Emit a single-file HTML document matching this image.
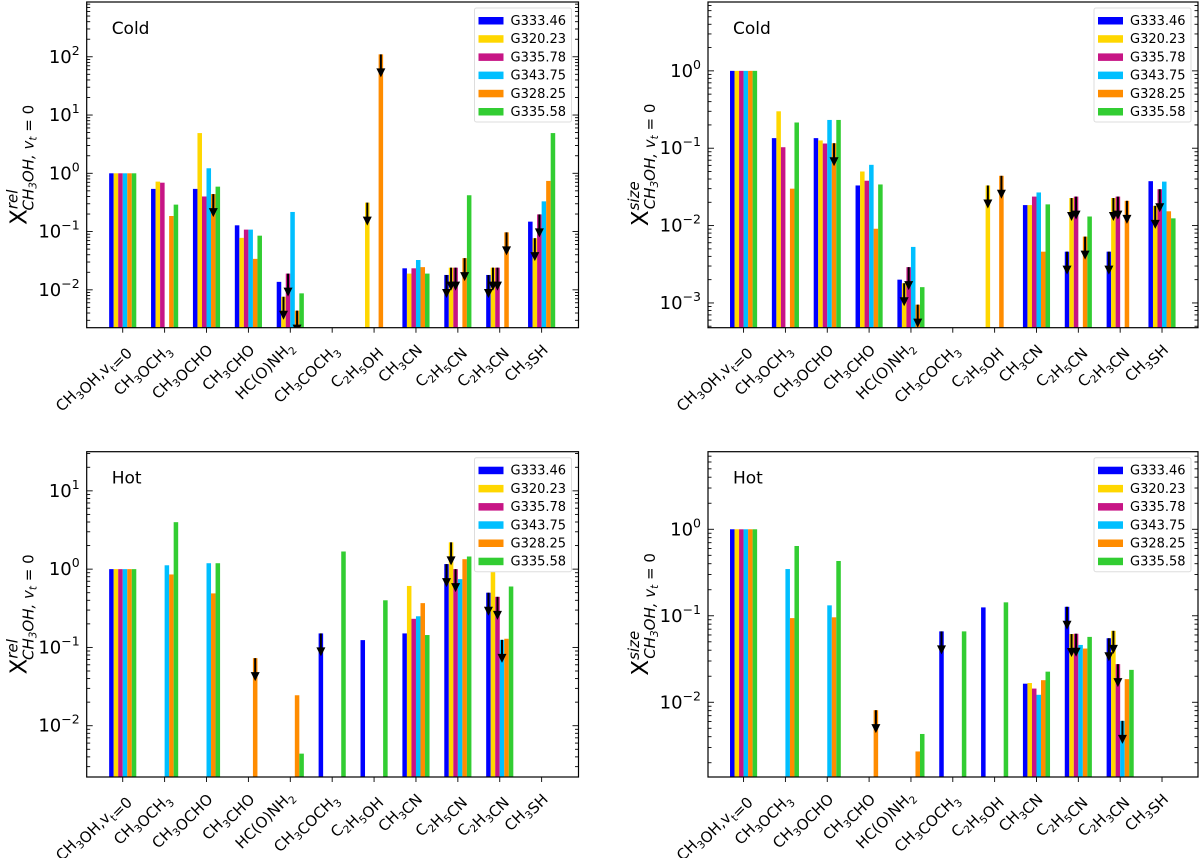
<!DOCTYPE html>
<html><head><meta charset="utf-8"><style>
html,body{margin:0;padding:0;background:#fff;}
svg{display:block;font-family:"DejaVu Sans","Liberation Sans",sans-serif;}
</style></head><body>
<svg id="chart" width="1200" height="858" viewBox="0 0 1200 858" xmlns="http://www.w3.org/2000/svg"></svg>
<script>
const categories=["CH_3OH,v_t=0","CH_3OCH_3","CH_3OCHO","CH_3CHO","HC(O)NH_2","CH_3COCH_3","C_2H_5OH","CH_3CN","C_2H_5CN","C_2H_3CN","CH_3SH"];
const sources=["G333.46","G320.23","G335.78","G343.75","G328.25","G335.58"];
const colors=["#0000ff","#ffd700","#c71585","#00bfff","#ff8c00","#32cd32"];
const N=null;
// Cold, relative
const coldRelG33346=[1,0.54,0.54,0.128,0.0137,N,N,0.0234,0.018,0.018,0.148];
const coldRelG32023=[1,0.72,4.9,0.078,0.0076,N,0.314,0.019,0.024,0.024,0.077];
const coldRelG33578=[1,0.69,0.4,0.108,0.019,N,N,0.0234,0.024,0.024,0.197];
const coldRelG34375=[1,N,1.22,0.108,0.217,N,N,0.0325,N,N,0.33];
const coldRelG32825=[1,0.185,0.44,0.034,0.0044,N,110,0.0245,0.035,0.097,0.74];
const coldRelG33558=[1,0.29,0.59,0.085,0.0087,N,N,0.019,0.42,N,4.9];
const coldRelLimits=[[4,2],[1,4],[2,4],[4,4],[1,6],[4,6],[0,8],[1,8],[2,8],[4,8],[0,9],[1,9],[2,9],[4,9],[1,10],[2,10]];
// Cold, size
const coldSizeG33346=[1,0.135,0.135,0.033,0.002,N,N,0.0184,0.0046,0.0046,0.0375];
const coldSizeG32023=[1,0.30,0.126,0.050,0.0018,N,0.033,0.0184,0.0227,0.0227,0.018];
const coldSizeG33578=[1,0.103,0.115,0.038,0.0029,N,N,0.0237,0.0237,0.0237,0.0295];
const coldSizeG34375=[1,N,0.232,0.061,0.0053,N,N,0.0268,N,N,0.037];
const coldSizeG32825=[1,0.030,0.116,0.0091,0.00095,N,0.044,0.0046,0.0072,0.0209,0.0153];
const coldSizeG33558=[1,0.215,0.232,0.034,0.0016,N,N,0.0188,0.0131,N,0.0124];
const coldSizeLimits=[[4,2],[1,4],[2,4],[4,4],[1,6],[4,6],[0,8],[1,8],[2,8],[4,8],[0,9],[1,9],[2,9],[4,9],[1,10],[2,10]];
// Hot, relative
const hotRelG33346=[1,N,N,N,N,0.151,0.124,0.151,1.16,0.50,N];
const hotRelG32023=[1,N,N,N,N,N,N,0.61,2.2,2.0,N];
const hotRelG33578=[1,N,N,N,N,N,N,0.232,1.0,0.443,N];
const hotRelG34375=[1,1.12,1.19,N,N,N,N,0.25,0.745,0.125,N];
const hotRelG32825=[1,0.855,0.49,0.073,0.0245,N,N,0.368,1.34,0.129,N];
const hotRelG33558=[1,3.98,1.19,N,0.0044,1.68,0.40,0.144,1.45,0.60,N];
const hotRelLimits=[[4,3],[0,5],[0,8],[1,8],[2,8],[0,9],[2,9],[3,9]];
// Hot, size
const hotSizeG33346=[1,N,N,N,N,0.066,0.125,0.0164,0.127,0.055,N];
const hotSizeG32023=[1,N,N,N,N,N,N,0.0167,0.0615,0.067,N];
const hotSizeG33578=[1,N,N,N,N,N,N,0.0144,0.062,0.0276,N];
const hotSizeG34375=[1,0.347,0.132,N,N,N,N,0.0122,0.046,0.0061,N];
const hotSizeG32825=[1,0.094,0.096,0.0081,0.0027,N,N,0.018,0.0418,0.0185,N];
const hotSizeG33558=[1,0.641,0.43,N,0.0043,0.066,0.143,0.0226,0.057,0.0237,N];
const hotSizeLimits=[[4,3],[0,5],[0,8],[1,8],[2,8],[0,9],[1,9],[2,9],[3,9]];
const coldRelTicks=[-2,-1,0,1,2];
const coldSizeTicks=[-3,-2,-1,0];
const hotRelTicks=[-2,-1,0,1];
const hotSizeTicks=[-2,-1,0];

const NS="http://www.w3.org/2000/svg";
const svg=document.getElementById('chart');
function mk(tag,attrs,parent){const e=document.createElementNS(NS,tag);for(const k in attrs)e.setAttribute(k,attrs[k]);(parent||svg).appendChild(e);return e;}
function richText(parent,str,fs){
  let i=0;
  while(i<str.length){
    if(str[i]==='_'){
      const t=mk('tspan',{'font-size':fs*0.7,'dy':fs*0.3},parent);t.textContent=str[i+1];
      const r=mk('tspan',{'dy':-fs*0.3},parent);r.textContent='';
      i+=2;
    } else {
      let j=i;while(j<str.length&&str[j]!=='_')j++;
      const t=mk('tspan',{},parent);t.textContent=str.slice(i,j);i=j;
    }
  }
}
const panels=[
 {id:'cold-rel',title:'Cold',kind:'rel',x0:86.7,x1:578.5,y0:2,y1:327.7,xmin:-0.86,xmax:10.88,lmin:-2.65,lmax:2.94,ticks:coldRelTicks,
  series:[coldRelG33346,coldRelG32023,coldRelG33578,coldRelG34375,coldRelG32825,coldRelG33558],limits:coldRelLimits},
 {id:'cold-size',title:'Cold',kind:'size',x0:708,x1:1198,y0:2,y1:327.7,xmin:-0.85,xmax:10.86,lmin:-3.32,lmax:0.89,ticks:coldSizeTicks,
  series:[coldSizeG33346,coldSizeG32023,coldSizeG33578,coldSizeG34375,coldSizeG32825,coldSizeG33558],limits:coldSizeLimits},
 {id:'hot-rel',title:'Hot',kind:'rel',x0:86.7,x1:578.5,y0:451.7,y1:777,xmin:-0.86,xmax:10.88,lmin:-2.655,lmax:1.5,ticks:hotRelTicks,
  series:[hotRelG33346,hotRelG32023,hotRelG33578,hotRelG34375,hotRelG32825,hotRelG33558],limits:hotRelLimits},
 {id:'hot-size',title:'Hot',kind:'size',x0:708,x1:1198,y0:451.7,y1:777,xmin:-0.85,xmax:10.86,lmin:-2.864,lmax:0.897,ticks:hotSizeTicks,
  series:[hotSizeG33346,hotSizeG32023,hotSizeG33578,hotSizeG34375,hotSizeG32825,hotSizeG33558],limits:hotSizeLimits}
];
const BW=0.108;
panels.forEach(p=>{
  const g=mk('g',{});
  
  
  const xs=v=>p.x0+(v-p.xmin)/(p.xmax-p.xmin)*(p.x1-p.x0);
  const ys=v=>p.y1-(Math.log10(v)-p.lmin)/(p.lmax-p.lmin)*(p.y1-p.y0);
  const clip='clip-'+p.id;
  const cp=mk('clipPath',{id:clip},g);mk('rect',{x:p.x0,y:p.y0,width:p.x1-p.x0,height:p.y1-p.y0},cp);
  const bars=mk('g',{'clip-path':'url(#'+clip+')'},g);
  
  
  p.series.forEach((arr,s)=>{
    arr.forEach((v,c)=>{
      if(v==null)return;
      const xl=xs(c+(s-3)*BW), xr=xs(c+(s-2)*BW);
      const yt=ys(v);
      const r=mk('rect',{x:xl,y:yt,width:xr-xl,height:p.y1-yt,fill:colors[s]},bars);
      
      
    });
  });
  p.limits.forEach(([s,c])=>{
    const v=p.series[s][c];if(v==null)return;
    const cx=xs(c+(s-2.5)*BW), yt=ys(v);
    const a=mk('g',{},bars);
    
    
    mk('line',{x1:cx,y1:yt,x2:cx,y2:yt+16,stroke:'#000','stroke-width':2},a);
    mk('polygon',{points:`${cx-4.5},${yt+14} ${cx+4.5},${yt+14} ${cx},${yt+23}`,fill:'#000'},a);
  });
  const fr=mk('rect',{x:p.x0,y:p.y0,width:p.x1-p.x0,height:p.y1-p.y0,fill:'none',stroke:'#000','stroke-width':1.2},g);
  
  
  for(let k=Math.floor(p.lmin);k<=Math.ceil(p.lmax);k++){
    for(let m=1;m<10;m++){
      const lv=k+Math.log10(m);
      if(lv<p.lmin||lv>p.lmax)continue;
      const y=ys(Math.pow(10,lv));
      const L=m===1?6:3.5;
      mk('line',{x1:p.x0,y1:y,x2:p.x0+L,y2:y,stroke:'#000','stroke-width':0.9},g);
      mk('line',{x1:p.x1,y1:y,x2:p.x1-L,y2:y,stroke:'#000','stroke-width':0.9},g);
    }
  }
  p.ticks.forEach(k=>{
    const y=ys(Math.pow(10,k));
    const t=mk('text',{x:p.x0-7,y:y+6,'text-anchor':'end','font-size':18,fill:'#000'},g);
    
    
    const a=mk('tspan',{},t);a.textContent='10';
    const b=mk('tspan',{dy:-8,'font-size':12.5},t);b.textContent=(k<0?'\u2212':'')+Math.abs(k);
  });
  categories.forEach((c,i)=>{
    const x=xs(i);
    mk('line',{x1:x,y1:p.y1,x2:x,y2:p.y1+5,stroke:'#000','stroke-width':0.9},g);
    const tx=x+4, ty=p.y1+20;
    const t=mk('text',{x:tx,y:ty,'text-anchor':'end','font-size':15,fill:'#000',transform:`rotate(-45 ${tx} ${ty})`},g);
    
    
    richText(t,c,15);
  });
  const tt=mk('text',{x:p.x0+25,y:p.y0+32,'font-size':17,fill:'#000'},g);
  
  
  tt.textContent=p.title;
  const cy=(p.y0+p.y1)/2, cxl=p.x0-60;
  const yt=mk('text',{x:cxl,y:cy,'text-anchor':'middle','font-size':23,fill:'#000',transform:`rotate(-90 ${cxl} ${cy})`},g);
  
  
  const t1=mk('tspan',{},yt);t1.textContent='X';
  const t2=mk('tspan',{'font-size':15,'font-style':'italic',dy:-9},yt);t2.textContent=p.kind==='rel'?'rel':'size';
  const t3=mk('tspan',{'font-size':15,'font-style':'italic',dy:16,dx:p.kind==='rel'?-21:-28},yt);t3.textContent='CH';
  const t4=mk('tspan',{'font-size':10.5,'font-style':'italic',dy:3},yt);t4.textContent='3';
  const t5=mk('tspan',{'font-size':15,'font-style':'italic',dy:-3},yt);t5.textContent='OH, v';
  const t6=mk('tspan',{'font-size':10.5,'font-style':'italic',dy:3},yt);t6.textContent='t';
  const t7=mk('tspan',{'font-size':15,dy:-3},yt);t7.textContent=' = 0';
  const lx=p.x1-104, ly=p.y0+6;
  const lg=mk('g',{},g);
  
  
  mk('rect',{x:lx,y:ly,width:97,height:114,fill:'#fff',stroke:'#ddd','stroke-width':1,rx:2},lg);
  sources.forEach((s,i)=>{
    const e=mk('g',{},lg);
    
    
    const yy=ly+12.5+i*18.2;
    mk('rect',{x:lx+4,y:yy-3.5,width:25,height:7.5,fill:colors[i]},e);
    const t=mk('text',{x:lx+36,y:yy+4.5,'font-size':13,fill:'#000'},e);t.textContent=s;
  });
});
</script>
</body></html>
